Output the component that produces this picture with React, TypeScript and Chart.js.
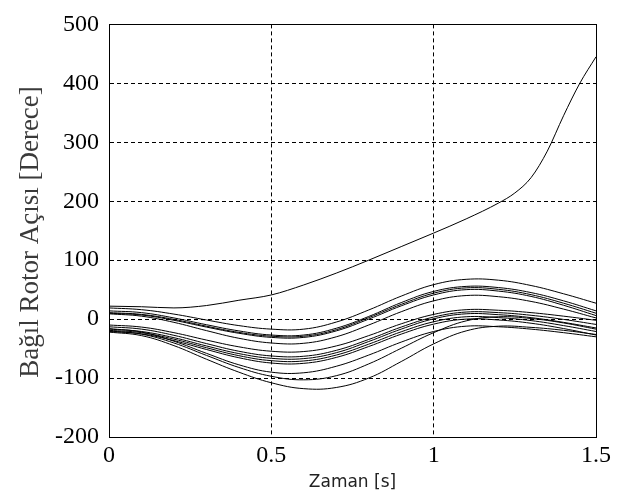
import React, { useEffect, useRef } from "react";
import { Chart, registerables } from "chart.js";

Chart.register(...registerables);

// ---- data ----
const TIME = [0, 0.1, 0.2, 0.3, 0.4, 0.5, 0.6, 0.7, 0.8, 0.9, 1.0, 1.1, 1.2, 1.3, 1.4, 1.5];

const UNSTABLE_T = [0, 0.1, 0.2, 0.3, 0.4, 0.5, 0.6, 0.7, 0.8, 0.9, 1.0, 1.1, 1.2, 1.25, 1.3, 1.35, 1.4, 1.45, 1.5];
const UNSTABLE_V = [22, 21, 19, 23, 32, 41, 58, 78, 100, 123, 146, 170, 197, 214, 240, 285, 345, 400, 445];

const U1 = [19, 16, 8.5, -1.5, -11, -17, -17, -5, 15.5, 39, 58.5, 67.5, 66, 57, 43, 27];
const U2 = [14, 11, 2, -9.5, -20, -27, -27, -15.5, 4.5, 28, 47, 55.5, 53.5, 45, 31, 14];
const U3 = [10, 7, -2, -13.5, -24, -31, -31, -20, 0, 22.5, 41, 50, 47.5, 38.5, 23.5, 6];
const U4 = [9, 5, -5.5, -19.5, -32.5, -40.5, -41, -30, -10, 12.5, 31, 40, 38, 30, 17, 2];
const U5 = [11, 8, -0.5, -12, -22.5, -29, -29, -18, 2.5, 25, 44, 53, 50.5, 41.5, 27, 10];

const L1 = [-10, -13.5, -23, -35.5, -47, -54.5, -55, -45.5, -28, -8, 8, 16, 15, 11, 5, -2];
const L2 = [-13, -17, -27.5, -41.5, -54.5, -62.5, -63, -53, -34.5, -13.5, 3.5, 12, 11, 6.5, -0.5, -9];
const L3 = [-17, -21, -31.5, -45.5, -58.5, -66.5, -67, -57, -38, -17, 0.5, 9, 7.5, 2.5, -5.5, -15];
const L4 = [-19, -23, -34, -48.5, -62, -70.5, -71, -61, -42.5, -21.5, -4.5, 4, 2.5, -2.5, -11, -21];
const L5 = [-21, -25, -36.5, -51.5, -65.5, -74.5, -75, -65, -46.5, -25.5, -8.5, 0, -1.5, -7, -16, -27];
const L6 = [-16, -22, -37.5, -58, -77.5, -90, -91, -80, -61, -39, -21, -12, -13, -17, -23, -30];
const L7 = [-20, -25.5, -40.5, -61.5, -82, -97, -103, -96, -76, -49.5, -23, -3, 4, 1, -6.5, -17];
const L8 = [-22, -28, -45, -68, -90, -108, -118, -116, -100, -72, -42, -20, -12, -14, -19, -26];

const STABLE = [U1, U2, U3, U4, U5, L1, L2, L3, L4, L5, L6, L7, L8];

const X_TICKS = [0, 0.5, 1, 1.5];
const Y_TICKS = [-200, -100, 0, 100, 200, 300, 400, 500];
const X_TITLE = "Zaman [s]";
const Y_TITLE = "Bağıl Rotor Açısı [Derece]";

const boxAndTitles = {
  id: "boxAndTitles",
  afterDatasetsDraw(chart: any) {
    const { ctx, chartArea } = chart;
    const { left, right, top, bottom } = chartArea;
    ctx.save();
    ctx.strokeStyle = "#000";
    ctx.lineWidth = 1;
    ctx.setLineDash([]);
    ctx.strokeRect(Math.round(left) + 0.5, Math.round(top) + 0.5, Math.round(right - left), Math.round(bottom - top));
    ctx.restore();
  },
  afterDraw(chart: any) {
    const { ctx, chartArea } = chart;
    const cx = (chartArea.left + chartArea.right) / 2;
    ctx.save();
    ctx.fillStyle = "#222";
    ctx.font = '17px "DejaVu Sans"';
    ctx.textAlign = "center";
    ctx.textBaseline = "middle";
    ctx.fillText(X_TITLE, cx, 483);
    ctx.translate(31, 232);
    ctx.rotate(-Math.PI / 2);
    ctx.fillStyle = "#3a3a3a";
    ctx.font = '27px "Liberation Serif"';
    ctx.fillText(Y_TITLE, 0, 0);
    ctx.restore();
  },
};

export default function App() {
  const ref = useRef<HTMLCanvasElement>(null);
  useEffect(() => {
    const canvas = ref.current!;
    const base = {
      borderColor: "#000",
      borderWidth: 1,
      pointRadius: 0,
      fill: false,
    };
    const datasets: any[] = [
      {
        data: UNSTABLE_T.map((t, i) => ({ x: t, y: UNSTABLE_V[i] })),
        ...base,
        cubicInterpolationMode: "monotone",
      },
      ...STABLE.map((arr) => ({
        data: TIME.map((t, i) => ({ x: t, y: arr[i] })),
        ...base,
        tension: 0.4,
      })),
    ];
    const tickFont = { family: '"Liberation Serif"', size: 24 };
    const chart = new Chart(canvas, {
      type: "line",
      data: { datasets },
      options: {
        animation: false,
        responsive: false,
        events: [],
        layout: { padding: { top: 15, right: 34, left: 0, bottom: 0 } },
        plugins: { legend: { display: false }, tooltip: { enabled: false } },
        scales: {
          x: {
            type: "linear",
            min: 0,
            max: 1.5,
            afterBuildTicks: (s: any) => {
              s.ticks = X_TICKS.map((v) => ({ value: v }));
            },
            afterFit: (s: any) => {
              s.height = 62;
            },
            ticks: {
              color: "#000",
              font: tickFont,
              padding: 4,
              maxRotation: 0,
              autoSkip: false,
              callback: (v: any) => String(v),
            },
            grid: { color: "#000", lineWidth: 1, drawTicks: false },
            border: { display: true, color: "#000", dash: [4, 3] },
          },
          y: {
            type: "linear",
            min: -200,
            max: 500,
            afterBuildTicks: (s: any) => {
              s.ticks = Y_TICKS.map((v) => ({ value: v }));
            },
            afterFit: (s: any) => {
              s.width = 109;
            },
            ticks: {
              color: "#000",
              font: tickFont,
              padding: 10,
              autoSkip: false,
              callback: (v: any) => String(v),
            },
            grid: { color: "#000", lineWidth: 1, drawTicks: false },
            border: { display: true, color: "#000", dash: [4, 3] },
          },
        },
      },
      plugins: [boxAndTitles],
    });
    return () => chart.destroy();
  }, []);
  return (
    <div style={{ position: "fixed", left: 0, top: 0, width: 630, height: 499, background: "#fff" }}>
      <canvas ref={ref} width={630} height={499} style={{ display: "block" }} />
    </div>
  );
}
